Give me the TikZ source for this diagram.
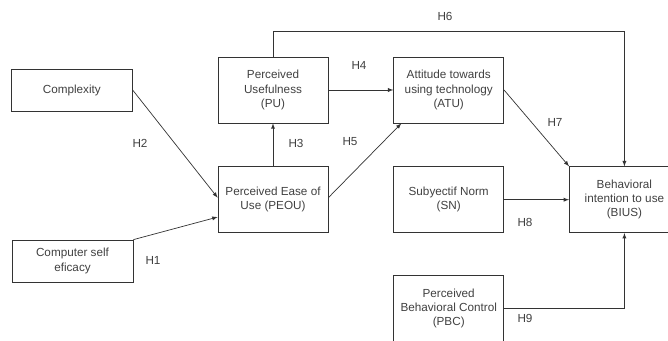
\documentclass[tikz,border=0pt]{standalone}
\usepackage{fontspec}
\setmainfont{Liberation Sans}
\usepackage{tikz}
\usetikzlibrary{positioning}
\usetikzlibrary{arrows}

\begin{document}
\begin{tikzpicture}[>=latex]
\tikzset{construct/.style={rectangle,minimum width=3.3cm,minimum height=1.98cm, align=center, draw=black!80, line width=0.6pt, text=black!75, font=\fontsize{10}{12}\selectfont, inner sep=2pt}}
\tikzset{outer/.style={construct,minimum width=3.63cm,minimum height=1.26cm}}
\tikzset{hyp/.style={text=black!75, font=\fontsize{10}{12}\selectfont}}
\tikzset{link/.style={->, draw=black!80, line width=0.6pt}}
\useasboundingbox (0,0) rectangle (20.04,-10.23);
\node[construct] (pu) at (8.19,-2.7) {Perceived\\Usefulness\\(PU)};
\node[construct, below=1.29cm of pu] (peou) {Perceived Ease of\\Use (PEOU)};
\node[construct, right=1.95cm of pu] (atu) {Attitude towards\\using technology\\(ATU)};
\node[construct, below=1.29cm of atu] (sn) {Subyectif Norm\\(SN)};
\node[construct, below=1.26cm of sn] (pbc) {Perceived\\Behavioral Control\\(PBC)};
\node[construct, right=1.95cm of sn] (bius) {Behavioral\\intention to use\\(BIUS)};
\node[outer, left=2.55cm of pu] (cmplx) {Complexity};
\node[outer] (cse) at (2.175,-7.83) {Computer self\\eficacy};
% hypotheses
\draw[link] (cse.north east) -- ([yshift=-0.52cm]peou.west);
\draw[link] (cmplx.east) -- ([yshift=0.06cm]peou.west);
\draw[link] (peou.north) -- (pu.south);
\draw[link] (pu.east) -- (atu.west);
\draw[link] ([yshift=0.06cm]peou.east) -- ([xshift=0.24cm]atu.south west);
\draw[link] (pu.north) -- ++(0,0.75) -| (bius.north);
\draw[link] (atu.east) -- (bius.north west);
\draw[link] (sn.east) -- (bius.west);
\draw[link] (pbc.east) -| (bius.south);
\node[hyp] (h1) at (4.59,-7.8) {H1};
\node[hyp] (h2) at (4.2,-4.29) {H2};
\node[hyp] (h3) at (8.88,-4.29) {H3};
\node[hyp] (h4) at (10.77,-1.95) {H4};
\node[hyp] (h5) at (10.5,-4.26) {H5};
\node[hyp] (h6) at (13.35,-0.48) {H6};
\node[hyp] (h7) at (16.65,-3.66) {H7};
\node[hyp] (h8) at (15.75,-6.66) {H8};
\node[hyp] (h9) at (15.75,-9.54) {H9};
\end{tikzpicture}
\end{document}
